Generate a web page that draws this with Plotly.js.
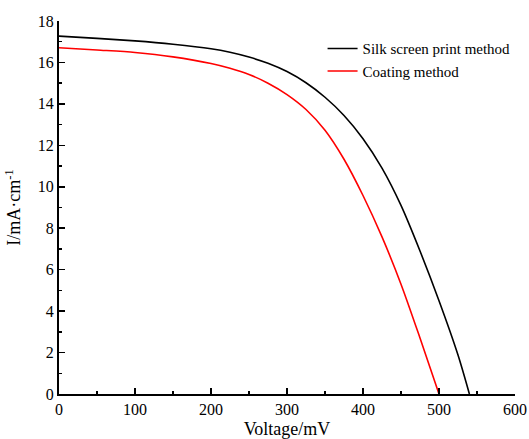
<!DOCTYPE html>
<html>
<head>
<meta charset="utf-8">
<script src="https://cdn.plot.ly/plotly-3.0.1.min.js"></script>
<style>html,body{margin:0;padding:0;background:#fff}#chart{width:529px;height:439px}</style>
</head>
<body>
<div id="chart"></div>
<script>
const silkV = [0, 50, 100, 150, 200, 225, 250, 275, 300, 325, 350, 375, 400, 425, 450, 475, 500, 525, 540];
const silkI = [17.27, 17.16, 17.04, 16.88, 16.66, 16.49, 16.26, 15.96, 15.56, 15.02, 14.32, 13.44, 12.32, 10.9, 9.1, 6.9, 4.5, 1.88, 0];
const coatV = [0, 50, 100, 150, 200, 225, 250, 275, 300, 325, 350, 375, 400, 425, 450, 475, 500];
const coatI = [16.71, 16.6, 16.48, 16.27, 15.95, 15.72, 15.42, 15.0, 14.45, 13.73, 12.73, 11.33, 9.58, 7.58, 5.3, 2.7, 0];
const names = ["Silk screen print method", "Coating method"];
const xTicks = [0, 100, 200, 300, 400, 500, 600];
const yTicks = [0, 2, 4, 6, 8, 10, 12, 14, 16, 18];

const font = "'Liberation Serif', 'Times New Roman', serif";
const traces = [
  {x: silkV, y: silkI, name: names[0], mode: "lines", line: {color: "#000000", width: 1.6, shape: "spline", smoothing: 0.8}},
  {x: coatV, y: coatI, name: names[1], mode: "lines", line: {color: "#ff0000", width: 1.6, shape: "spline", smoothing: 0.8}}
];
const axisCommon = {
  showgrid: false, zeroline: false, showline: true, linecolor: "#000", linewidth: 2,
  ticks: "inside", ticklen: 6, tickwidth: 1.5, tickcolor: "#000",
  tickfont: {family: font, size: 16, color: "#000"}
};
const layout = {
  width: 529, height: 439,
  margin: {l: 59, r: 14, t: 21, b: 45},
  paper_bgcolor: "#fff", plot_bgcolor: "#fff",
  font: {family: font, color: "#000"},
  showlegend: true,
  legend: {x: 0.578, y: 0.97, xanchor: "left", yanchor: "top", bgcolor: "rgba(0,0,0,0)",
           font: {family: font, size: 15, color: "#000"}, tracegroupgap: 0},
  xaxis: Object.assign({}, axisCommon, {
    range: [0, 600], tickvals: xTicks, ticktext: xTicks.map(String),
    minor: {dtick: 50, ticks: "inside", ticklen: 3, tickwidth: 1.5, tickcolor: "#000"},
    title: {text: "Voltage/mV", font: {family: font, size: 18, color: "#000"}, standoff: 6}
  }),
  yaxis: Object.assign({}, axisCommon, {
    range: [0, 18], tickvals: yTicks, ticktext: yTicks.map(String),
    minor: {dtick: 1, ticks: "inside", ticklen: 3, tickwidth: 1.5, tickcolor: "#000"},
    title: {text: "I/mA·cm<sup>-1</sup>", font: {family: font, size: 18, color: "#000"}, standoff: 12}
  })
};
Plotly.newPlot("chart", traces, layout, {displayModeBar: false, staticPlot: true});
</script>
</body>
</html>
